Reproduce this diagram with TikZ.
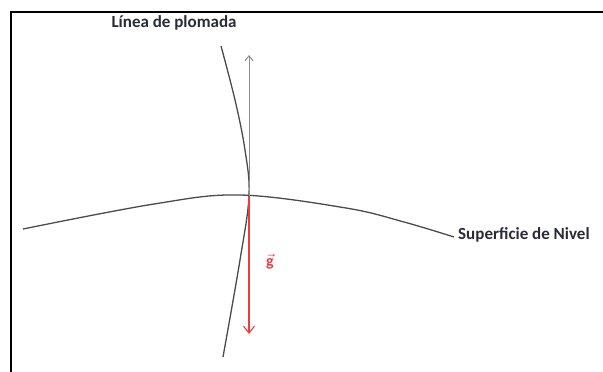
\documentclass[tikz,border=0pt]{standalone}
\usepackage{fontspec}
\setmainfont{Carlito}
\usetikzlibrary{math}
\usetikzlibrary{arrows.meta}
\definecolor{mygray}{RGB}{75,75,75}
\definecolor{myred}{RGB}{238,60,60}
\definecolor{mytext}{RGB}{40,44,56}

\begin{document}
\begin{tikzpicture}[x=1pt,y=-1pt]
\tikzmath{
\xo=249;
\yo=196;
}
\useasboundingbox (0,0) rectangle (603,372);
\tikzset{lbl/.style={font=\bfseries\fontsize{17}{19}\selectfont, text=mytext, inner sep=0pt}}

%%%%%%%%%% frame
\draw[line width=1.6pt] (11,380) -- (11,12) -- (615,12);

%%%%%%%%%% plumb line and level surface
\coordinate (O) at (\xo,\yo);
\coordinate (top) at (221,46);
\coordinate (bot) at (223,357);
\coordinate (L) at (23,229);
\coordinate (R) at (454,237);
\draw[mygray, line width=1.3pt] plot[smooth, tension=0.6] coordinates {(top) (235,100) (245,150) (O) (240,260) (bot)};
\draw[mygray, line width=1.3pt] plot[smooth, tension=0.6] coordinates {(L) (154,204) (240,195) (346,208) (404,222) (R)};

%%%%%%%%%% vectors
\coordinate (up) at (\xo,55);
\coordinate (down) at (\xo,334);
\draw[-{Straight Barb[length=5pt,width=8pt]}, black!45, line width=1pt] (O) -- (up);
\draw[-{Straight Barb[length=7pt,width=11pt]}, myred, line width=1.1pt] (O) -- (down);
\node[text=myred, scale=1.6, inner sep=0pt] (g) at (270,262) {$\vec{\mathbf{g}}$};

%%%%%%%%%% labels
\node[lbl] (plomada) at (174,23) {Línea de plomada};
\node[lbl, anchor=west] (nivel) at (458,235) {Superficie de Nivel};
\end{tikzpicture}
\end{document}
